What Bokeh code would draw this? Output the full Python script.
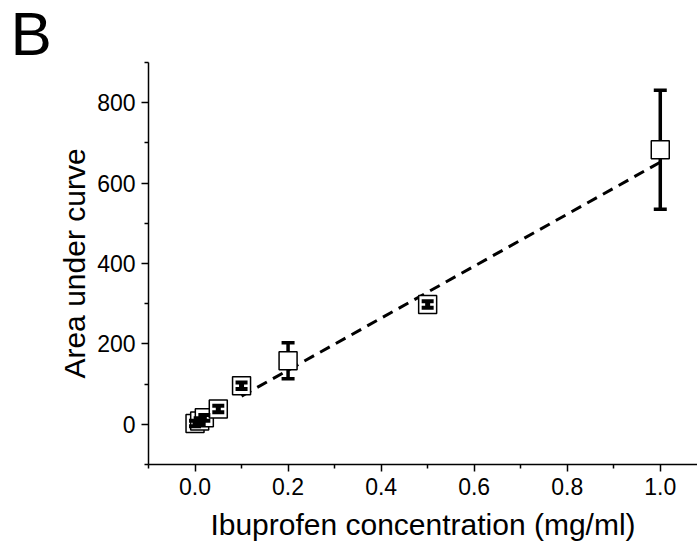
from bokeh.plotting import figure
from bokeh.models import FixedTicker, NumeralTickFormatter, Range1d
from bokeh.embed import file_html
from bokeh.resources import INLINE

# Data
conc = [0.0, 0.01, 0.02, 0.05, 0.1, 0.2, 0.5, 1.0]
auc = [2, 8, 16, 38, 96, 158, 298, 683]
err = [7, 7, 7, 8, 8, 45, 8, 148]
fit_x = [0.1, 1.0]
fit_y = [70, 652]
x_ticks = [0.0, 0.2, 0.4, 0.6, 0.8, 1.0]
x_minor = [-0.1, 0.1, 0.3, 0.5, 0.7, 0.9]
y_ticks = [0, 200, 400, 600, 800]
y_minor = [-100, 100, 300, 500, 700, 900]

FONT = "Liberation Sans"
SQ = 18  # marker size px
Y_PER_PX = 1000 / 402.0
half = SQ / 2 * Y_PER_PX

W, H = 697, 546
p = figure(width=W, height=H, output_backend="svg", toolbar_location=None,
           x_range=Range1d(-0.1, 1.08), y_range=Range1d(-100, 900),
           min_border_left=148, min_border_right=0, min_border_top=62, min_border_bottom=82)
p.outline_line_color = None
p.xgrid.visible = False
p.ygrid.visible = False
p.background_fill_color = "white"

p.title.text = "B"
p.title.text_font = FONT
p.title.text_font_size = "62px"
p.title.text_font_style = "normal"
p.title.text_color = "black"
p.title.align = "left"
p.title.offset = -138
p.title.standoff = -10

# fit line
p.line(fit_x, fit_y, line_color="black", line_width=3, line_dash="11 7")

# error bars: long ones are drawn outside the square, short ones on top of it
up_x, up_y0, up_y1 = [], [], []
small_x, small_y0, small_y1 = [], [], []
for x, y, e in zip(conc, auc, err):
    if e > half:
        up_x += [x, x]
        up_y0 += [y + half, y - half]
        up_y1 += [y + e, y - e]
    else:
        small_x.append(x)
        small_y0.append(y - e)
        small_y1.append(y + e)

p.segment(x0=up_x, y0=up_y0, x1=up_x, y1=up_y1, line_color="black", line_width=3.5)
big_cap_x = [x for x, e in zip(conc, err) if e > half for _ in (0, 1)]
big_cap_y = [v for y, e in zip(auc, err) if e > half for v in (y - e, y + e)]
p.scatter(big_cap_x, big_cap_y, marker="dash", size=13, line_color="black", line_width=3.5)

# squares
p.scatter(conc, auc, marker="square", size=SQ, fill_color="white", line_color="black", line_width=1.5)

p.segment(x0=small_x, y0=small_y0, x1=small_x, y1=small_y1, line_color="black", line_width=5)
small_cap_x = [x for x in small_x for _ in (0, 1)]
small_cap_y = [v for a, b in zip(small_y0, small_y1) for v in (a, b)]
p.scatter(small_cap_x, small_cap_y, marker="dash", size=12, line_color="black", line_width=4)

for ax in (p.xaxis[0], p.yaxis[0]):
    ax.axis_line_width = 1.5
    ax.axis_line_color = "black"
    ax.major_tick_line_color = "black"
    ax.minor_tick_line_color = "black"
    ax.major_tick_line_width = 1.5
    ax.minor_tick_line_width = 1.5
    ax.major_tick_out = 7
    ax.major_tick_in = 0
    ax.minor_tick_out = 4
    ax.minor_tick_in = 0
    ax.major_label_text_font = FONT
    ax.major_label_text_font_size = "23px"
    ax.major_label_text_color = "black"
    ax.axis_label_text_font = FONT
    ax.axis_label_text_font_size = "30px"
    ax.axis_label_text_font_style = "normal"
    ax.axis_label_text_color = "black"

p.xaxis.ticker = FixedTicker(ticks=x_ticks, minor_ticks=x_minor)
p.yaxis.ticker = FixedTicker(ticks=y_ticks, minor_ticks=y_minor)
p.xaxis.formatter = NumeralTickFormatter(format="0.0")
p.xaxis.axis_label = "Ibuprofen concentration (mg/ml)"
p.yaxis.axis_label = "Area under curve"
p.xaxis.major_label_standoff = 6
p.yaxis.major_label_standoff = 6
p.xaxis.axis_label_standoff = 10
p.yaxis.axis_label_standoff = 3

open("out.html", "w").write(file_html(p, INLINE))
